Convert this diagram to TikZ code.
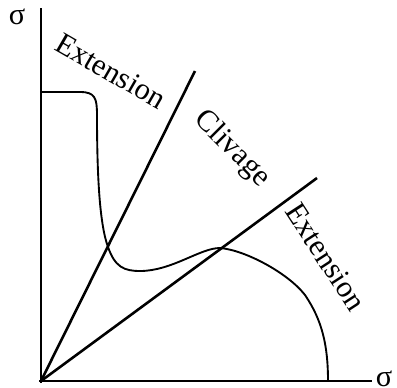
\documentclass[tikz,border=0pt]{standalone}
\usepackage{fontspec}
\setmainfont{Liberation Serif}
\usepackage{tikz}
\usetikzlibrary{positioning,calc}

\begin{document}
\begin{tikzpicture}[
    x=0.03cm,y=-0.03cm,
    axis/.style={line width=2.4pt},
    ray/.style={line width=2.2pt},
    law/.style={line width=1.6pt,line join=round},
    lbl/.style={font=\fontsize{26}{30}\selectfont,inner sep=0pt},
    every node/.style={font=\fontsize{26}{30}\selectfont}]
  \useasboundingbox (0,0) rectangle (397,387);
  % ---- axes ----
  \coordinate (O) at (41,381);
  \coordinate (ytop) at (41,8);
  \coordinate (xend) at (372,381);
  \draw[axis] ($(O)+(0,2)$) -- (ytop);
  \draw[axis] ($(O)+(-2,0)$) -- (xend);
  \node[lbl] (sy) at (17,17) {σ};
  \node[lbl] (sx) at (384,379) {σ};
  % ---- rays from the origin ----
  \coordinate (r1) at (195,71);
  \coordinate (r2) at (317,178);
  \draw[ray] (O) -- (r1);
  \draw[ray] (O) -- (r2);
  % ---- curve ----
  \draw[law] (41,92) -- (80,92)
    .. controls (95,92) and (97,98) .. (97,115)
    .. controls (97,180) and (100,225) .. (108,247)
    .. controls (115,267) and (124,271) .. (140,271)
    .. controls (172,271) and (200,248) .. (220,248)
    .. controls (245,250) and (288,273) .. (305,295)
    .. controls (322,320) and (328,345) .. (328,381);
  % ---- labels ----
  \node[lbl,rotate=-30] (ext1) at (111,71) {Extension};
  \node[lbl,rotate=-45] (cliv) at (232,149) {Clivage};
  \node[lbl,rotate=-57] (ext2) at (326,257) {Extension};
\end{tikzpicture}
\end{document}
